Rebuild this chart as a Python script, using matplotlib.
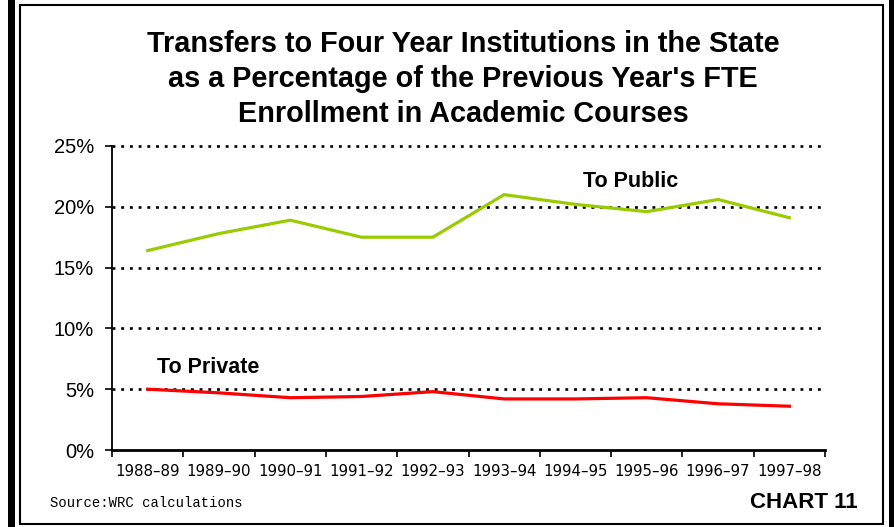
import matplotlib.pyplot as plt
from matplotlib.patches import Rectangle

years = ["1988–89", "1989–90", "1990–91", "1991–92", "1992–93",
         "1993–94", "1994–95", "1995–96", "1996–97", "1997–98"]
to_public = [16.4, 17.8, 18.9, 17.5, 17.5, 21.0, 20.2, 19.6, 20.6, 19.1]
to_private = [5.0, 4.7, 4.3, 4.4, 4.8, 4.2, 4.2, 4.3, 3.8, 3.6]
y_ticks = [0, 5, 10, 15, 20, 25]

W, H = 895, 527
fig = plt.figure(figsize=(W / 100, H / 100), dpi=100)
ax = fig.add_axes([112 / W, 1 - 450 / H, (825 - 112) / W, (450 - 146) / H])

x = [i + 0.5 for i in range(len(years))]
ax.plot(x, to_public, color="#99CC00", lw=2.3, solid_joinstyle="miter")
ax.plot(x, to_private, color="#FF0000", lw=2.3, solid_joinstyle="miter")

ax.set_xlim(0, len(years))
ax.set_ylim(0, 25)

# dotted gridlines
for v in y_ticks[1:]:
    ax.axhline(v, color="black", lw=1.9, ls=(0, (1.1, 2.2)), zorder=0, clip_on=False)

ax.set_yticks(y_ticks)
ax.set_yticklabels([f"{v}%" for v in y_ticks], fontfamily="Liberation Sans", fontsize=14.5)
ax.tick_params(axis="y", length=5, width=1.2, direction="out", pad=8)

ax.set_xticks(range(len(years) + 1))
ax.set_xticklabels([""] * (len(years) + 1))
ax.set_xticks(x, minor=True)
ax.set_xticklabels(years, minor=True, fontfamily="DejaVu Sans", fontsize=10.8)
ax.tick_params(axis="x", which="major", length=5, width=1.2, direction="out")
ax.tick_params(axis="x", which="minor", length=0, pad=10)

for s in ["top", "right"]:
    ax.spines[s].set_visible(False)
ax.spines["left"].set_linewidth(1.3)
ax.spines["bottom"].set_linewidth(2)

ax.text(6.6, 22.1, "To Public", fontfamily="Liberation Sans", fontweight="bold",
        fontsize=15.5, ha="left", va="center")
ax.text(0.63, 6.75, "To Private", fontfamily="Liberation Sans", fontweight="bold",
        fontsize=15.5, ha="left", va="center")

fig.text(463 / W, 1 - 79 / H,
         "Transfers to Four Year Institutions in the State\n"
         "as a Percentage of the Previous Year's FTE\n"
         "Enrollment in Academic Courses",
         ha="center", va="center", fontfamily="Liberation Sans", fontweight="bold",
         fontsize=20.8, linespacing=1.32)

fig.text(50 / W, 1 - 503 / H, "Source:WRC calculations", ha="left", va="center",
         fontfamily="Liberation Mono", fontsize=10)
fig.text(858 / W, 1 - 502 / H, "CHART 11", ha="right", va="center",
         fontfamily="Liberation Sans", fontweight="bold", fontsize=16)

# page frame
fig.add_artist(Rectangle((8 / W, 0), 7 / W, 1, transform=fig.transFigure,
                         color="black", lw=0))
fig.add_artist(Rectangle((889 / W, 0), 6 / W, 1, transform=fig.transFigure,
                         color="black", lw=0))
fig.add_artist(Rectangle((20 / W, 1 - 524 / H), (883 - 20) / W, (524 - 5) / H,
                         transform=fig.transFigure, fill=False, ec="black", lw=1.5))

fig.savefig("out.png", dpi=100)
